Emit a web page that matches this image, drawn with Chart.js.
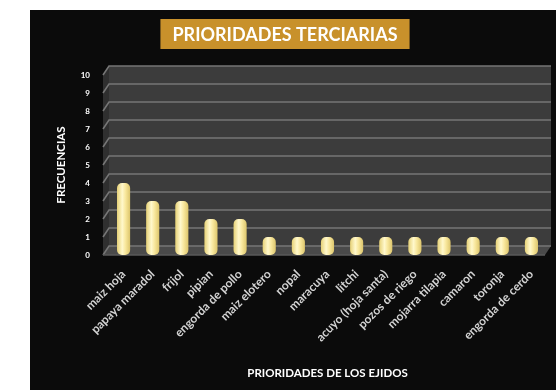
<!DOCTYPE html>
<html>
<head>
<meta charset="utf-8">
<script src="https://cdn.jsdelivr.net/npm/chart.js@4.4.1/dist/chart.umd.min.js"></script>
<style>
  html, body { margin: 0; padding: 0; background: #ffffff; }
  body { width: 556px; height: 390px; position: relative; overflow: hidden; }
  #panel { position: absolute; left: 30px; top: 10px; width: 526px; height: 380px; background: #0b0b0b; }
</style>
</head>
<body>
<div id="panel"><canvas id="grafico"></canvas></div>
<script>
// prioridades y frecuencias
const categorias = ["maiz hoja", "papaya maradol", "frijol", "pipian", "engorda de pollo", "maiz elotero",
  "nopal", "maracuya", "litchi", "acuyo (hoja santa)", "pozos de riego", "mojarra tilapia",
  "camaron", "toronja", "engorda de cerdo"];
const frecuencias = [4, 3, 3, 2, 2, 1, 1, 1, 1, 1, 1, 1, 1, 1, 1];
const ticksY = [0, 1, 2, 3, 4, 5, 6, 7, 8, 9, 10];

const titulo = "PRIORIDADES TERCIARIAS";
const anchoBarra = 0.45;

// fondo tipo 3D: pared lateral, pared trasera, piso y lineas
const pared3d = {
  id: "pared3d",
  beforeDatasetsDraw(chart) {
    const { ctx, chartArea: a, scales } = chart;
    const dx = 6, dy = -9;
    ctx.save();
    // pared lateral
    ctx.fillStyle = "#2f2f2f";
    ctx.beginPath();
    ctx.moveTo(a.left - dx, a.bottom);
    ctx.lineTo(a.left - dx, a.top);
    ctx.lineTo(a.left, a.top + dy);
    ctx.lineTo(a.left, a.bottom + dy);
    ctx.closePath();
    ctx.fill();
    // pared trasera
    ctx.fillStyle = "#3c3c3c";
    ctx.fillRect(a.left, a.top + dy, a.right + 5 - a.left, a.bottom - a.top);
    // piso
    ctx.fillStyle = "#4a4a4a";
    ctx.beginPath();
    ctx.moveTo(a.left - dx, a.bottom);
    ctx.lineTo(a.left, a.bottom + dy);
    ctx.lineTo(a.right + 5, a.bottom + dy);
    ctx.lineTo(a.right - 1, a.bottom);
    ctx.closePath();
    ctx.fill();
    // lineas de division
    ctx.strokeStyle = "#767676";
    ctx.lineWidth = 1.6;
    ticksY.forEach(v => {
      const y = scales.y.getPixelForValue(v);
      ctx.beginPath();
      ctx.moveTo(a.left - dx, y);
      ctx.lineTo(a.left, y + dy);
      ctx.lineTo(a.right + 5, y + dy);
      ctx.stroke();
    });
    // eje horizontal frontal
    ctx.strokeStyle = "#5a5a5a";
    ctx.beginPath();
    ctx.moveTo(a.left - dx, a.bottom);
    ctx.lineTo(a.right - 1, a.bottom);
    ctx.stroke();
    ctx.restore();
  }
};

// recuadro dorado del titulo
const cajaTitulo = {
  id: "cajaTitulo",
  afterDraw(chart) {
    const ctx = chart.ctx;
    ctx.save();
    ctx.font = "bold 18px Lato";
    const w = ctx.measureText(titulo).width;
    const cx = 255, cy = 24;
    ctx.fillStyle = "#c8912b";
    ctx.fillRect(cx - w / 2 - 12, cy - 15, w + 24, 30);
    ctx.fillStyle = "#ffffff";
    ctx.textAlign = "center";
    ctx.textBaseline = "middle";
    ctx.fillText(titulo, cx, cy + 1);
    ctx.restore();
  }
};

function colorBarra(c) {
  const chart = c.chart;
  const x = chart.scales.x;
  const fallback = "#f4e18e";
  if (!x || c.dataIndex === undefined) return fallback;
  const cx = x.getPixelForValue(c.dataIndex);
  const half = (x.width / categorias.length) * anchoBarra / 2;
  if (!isFinite(cx) || !isFinite(half) || half <= 0) return fallback;
  const g = chart.ctx.createLinearGradient(cx - half, 0, cx + half, 0);
  g.addColorStop(0, "#e6d176");
  g.addColorStop(0.4, "#fff8cc");
  g.addColorStop(0.65, "#f8e79c");
  g.addColorStop(1, "#dcc56c");
  return g;
}

new Chart(document.getElementById("grafico"), {
  type: "bar",
  data: {
    labels: categorias,
    datasets: [{
      data: frecuencias,
      backgroundColor: colorBarra,
      borderRadius: 5,
      borderSkipped: false,
      barPercentage: anchoBarra,
      categoryPercentage: 1
    }]
  },
  options: {
    responsive: true,
    maintainAspectRatio: false,
    animation: false,
    layout: { padding: { top: 65, right: 10, bottom: 10, left: 0 } },
    plugins: {
      legend: { display: false },
      tooltip: { enabled: false }
    },
    scales: {
      y: {
        min: 0,
        max: 10,
        afterFit(s) { s.width = 79; },
        grid: { display: false },
        border: { display: false },
        ticks: { stepSize: 1, padding: 11, color: "#ffffff", font: { family: "Lato", size: 8, weight: "bold" } },
        title: {
          display: true,
          text: "FRECUENCIAS",
          color: "#ffffff",
          padding: { top: 24, bottom: 0 },
          font: { family: "Lato", size: 11.5, weight: "bold" }
        }
      },
      x: {
        afterFit(s) { s.height = 125; },
        grid: { display: false },
        border: { display: false },
        ticks: {
          minRotation: 45,
          maxRotation: 45,
          padding: 4,
          autoSkip: false,
          color: "#d2d2d2",
          font: { family: "Lato", size: 12, weight: "bold" }
        },
        title: {
          display: true,
          text: "PRIORIDADES DE LOS EJIDOS",
          color: "#ffffff",
          padding: { top: 10, bottom: 0 },
          font: { family: "Lato", size: 11.5, weight: "bold" }
        }
      }
    }
  },
  plugins: [pared3d, cajaTitulo]
});
</script>
</body>
</html>
